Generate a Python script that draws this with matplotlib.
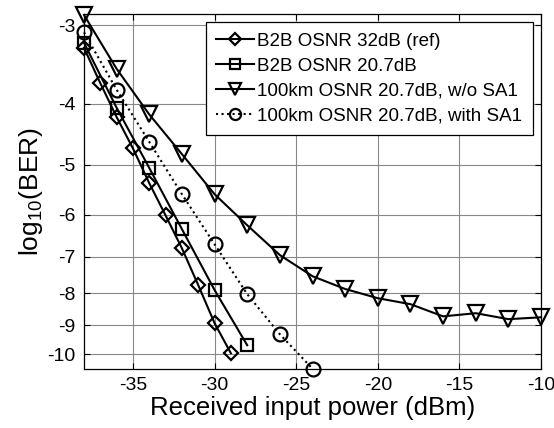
import numpy as np
import matplotlib
matplotlib.use("Agg")
import matplotlib.pyplot as plt

plt.rcParams["font.family"] = ["Liberation Sans", "DejaVu Sans"]
plt.rcParams["mathtext.fontset"] = "custom"
plt.rcParams["mathtext.rm"] = "Liberation Sans"
plt.rcParams["axes.unicode_minus"] = False

# --- data (log10 BER vs received power, dBm) ---
x_ref = [-38, -37, -36, -35, -34, -33, -32, -31, -30, -29]
y_ref = [-3.26, -3.71, -4.20, -4.71, -5.35, -6.02, -6.79, -7.77, -8.93, -9.97]

x_b2b = [-38, -36, -34, -32, -30, -28]
y_b2b = [-3.20, -4.06, -5.06, -6.33, -7.91, -9.68]

x_nosa = [-38, -36, -34, -32, -30, -28, -26, -24, -22, -20, -18, -16, -14, -12, -10]
y_nosa = [-2.89, -3.52, -4.16, -4.81, -5.57, -6.24, -6.96, -7.52, -7.88,
          -8.15, -8.33, -8.71, -8.61, -8.80, -8.74]

x_sa = [-38, -36, -34, -32, -30, -28, -26, -24]
y_sa = [-3.08, -3.80, -4.60, -5.57, -6.69, -8.03, -9.30, -10.55]

labels = ["B2B OSNR 32dB (ref)", "B2B OSNR 20.7dB",
          "100km OSNR 20.7dB, w/o SA1", "100km OSNR 20.7dB, with SA1"]
y_ticks = [-3, -4, -5, -6, -7, -8, -9, -10]
x_ticks = [-35, -30, -25, -20, -15, -10]


# y axis is linear in -log10(-log10(BER))
def fwd(v):
    return -np.log10(np.clip(-np.asarray(v, dtype=float), 1e-9, None))


def inv(u):
    return -10.0 ** (-np.asarray(u, dtype=float))


fig = plt.figure(figsize=(5.54, 4.28), dpi=100)
ax = fig.add_axes([0.1516, 0.1379, 0.825, 0.8294])
ax.set_yscale("function", functions=(fwd, inv))

common = dict(color="black", lw=1.5, mfc="none", mec="black", mew=1.6,
              clip_on=False, zorder=3)
ax.plot(x_ref, y_ref, "-", marker="D", ms=7.5, label=labels[0], **common)
ax.plot(x_b2b, y_b2b, "-", marker="s", ms=9, label=labels[1], **common)
ax.plot(x_nosa, y_nosa, "-", marker="v", ms=11, label=labels[2], **common)
ax.plot(x_sa, y_sa, ":", marker="o", ms=10, label=labels[3], **common)

ax.set_xlim(-38, -10)
ax.set_ylim(-10.56, -2.88)
ax.set_xticks(x_ticks)
ax.set_yticks(y_ticks)
ax.set_yticklabels([str(t) for t in y_ticks])
ax.minorticks_off()
ax.grid(True, color="#888888", lw=0.8)
ax.set_axisbelow(True)
ax.tick_params(direction="in", top=True, right=True, labelsize=14, length=4, pad=6)
for s in ax.spines.values():
    s.set_linewidth(0.9)

ax.set_xlabel("Received input power (dBm)", fontsize=18.5, labelpad=1)
ax.set_ylabel(r"log$_{10}$(BER)", fontsize=19, labelpad=2)

leg = ax.legend(loc="upper right", bbox_to_anchor=(0.982, 0.977),
                borderaxespad=0, fontsize=13.5, handlelength=2.0,
                labelspacing=0.42, handletextpad=0.2, borderpad=0.55,
                fancybox=False, framealpha=1, markerscale=0.8)
leg.get_frame().set_edgecolor("black")
leg.get_frame().set_linewidth(0.9)

fig.savefig("out.png", dpi=100)
